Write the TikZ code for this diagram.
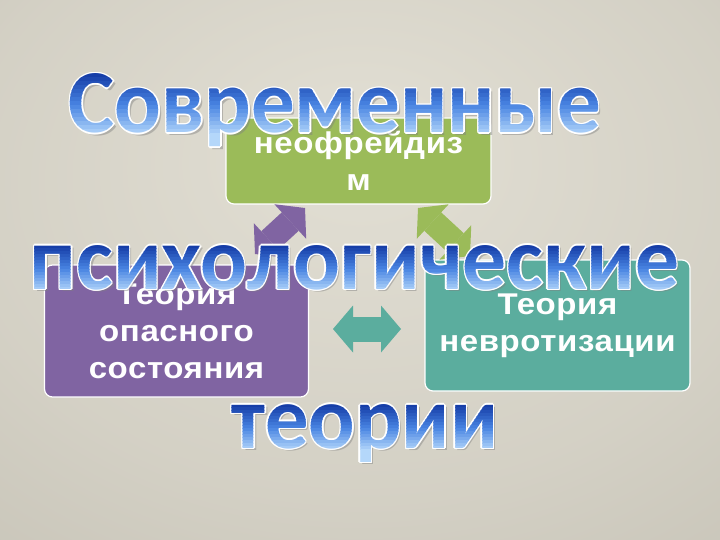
\documentclass[tikz,border=0pt]{standalone}
\usepackage{fontspec}
\usepackage{graphicx}
\usepackage{xcolor}
\usepackage{tikz}
\usetikzlibrary{arrows.meta}
\usetikzlibrary{shadings}

\newfontfamily\boxfont[LetterSpace=2,FakeStretch=1.1]{Liberation Sans}
\newfontfamily\wafont{Carlito}

\definecolor{bgin}{RGB}{226,223,212}
\definecolor{bgout}{RGB}{178,174,161}
\definecolor{grn}{RGB}{155,187,89}
\definecolor{vio}{RGB}{128,100,162}
\definecolor{aqua}{RGB}{91,173,158}
\definecolor{wadark}{RGB}{22,62,168}
\definecolor{wamid}{RGB}{72,132,226}
\definecolor{walight}{RGB}{180,215,250}

\newcommand{\wsovr}{\resizebox{532pt}{59pt}{\wafont\bfseries Современные}}
\newcommand{\wpsy}{\resizebox{649pt}{44pt}{\wafont\bfseries психологические}}
\newcommand{\wteor}{\resizebox{266pt}{44pt}{\wafont\bfseries теории}}

\pgfdeclareradialshading{bgglow}{\pgfpoint{0bp}{12bp}}{color(0bp)=(bgin); color(28bp)=(bgin!70!bgout); color(72bp)=(bgout)}

\begin{document}
\begin{tikzpicture}[x=1pt,y=-1pt,
  box/.style={draw=white, line width=1.2pt, rounded corners=8pt, inner sep=0pt,
    text=white, align=center, font=\boxfont\bfseries\fontsize{30}{37}\selectfont},
  blockarrow/.style={line width=25pt,
    {Triangle[length=20pt,width=47pt,line width=0pt]}-{Triangle[length=20pt,width=47pt,line width=0pt]}},
  waline/.style={inner sep=0pt, anchor=base, text=white},
  washadow/.style={inner sep=0pt, anchor=base, text=black!50, opacity=0.45}]

\shade[shading=bgglow] (0,0) rectangle (720,540);
\useasboundingbox (0,0) rectangle (720,540);

\node[box, fill=grn, minimum width=265pt, minimum height=86pt] (neo) at (358.5,161) {неофрейдиз\\м};
\node[box, fill=vio, minimum width=264pt, minimum height=132pt] (danger) at (176.5,331) {Теория\\опасного\\состояния};
\node[box, fill=aqua, minimum width=265pt, minimum height=131pt] (neuro) at (557.5,325.5) {Теория\\невротизации};

\coordinate (pa1) at (255,254);
\coordinate (pa2) at (305,208);
\coordinate (ga1) at (418,208);
\coordinate (ga2) at (470,256);
\coordinate (ta1) at (333,329);
\coordinate (ta2) at (401,329);
\draw[blockarrow, color=vio] (pa1) -- (pa2);
\draw[blockarrow, color=grn] (ga1) -- (ga2);
\draw[blockarrow, color=aqua] (ta1) -- (ta2);

\foreach \cx/\yb/\wh/\wrd [count=\w] in {335/133/59/\wsovr, 354.5/289/44/\wpsy, 365/448/44/\wteor}{
  \node[washadow] (wa\w-s) at (\cx+2.5,\yb+2.5) {\wrd};
  \foreach \dx/\dy [count=\k] in {-1.4/0,1.4/0,0/-1.4,0/1.4,-1/-1,1/1,-1/1,1/-1}
    \node[waline] (wa\w-o\k) at (\cx+\dx,\yb+\dy) {\wrd};
  \foreach \i in {0,...,15}{
    \pgfmathsetmacro\ya{\yb-\wh+\i*(\wh+4)/16-(\i==0)*40}
    \pgfmathsetmacro\yc{\yb-\wh+(\i+1)*(\wh+4)/16+0.4+(\i==15)*40}
    \pgfmathtruncatemacro\pa{min(100,\i*200/15)}
    \pgfmathtruncatemacro\pb{max(0,\i*200/15-100)}
    \begin{scope}
      \clip (\cx-350,\ya) rectangle (\cx+350,\yc);
      \node[waline, text=walight!\pb!wamid!\pa!wadark] (wa\w-b\i) at (\cx,\yb) {\wrd};
    \end{scope}
  }
}

\end{tikzpicture}
\end{document}
